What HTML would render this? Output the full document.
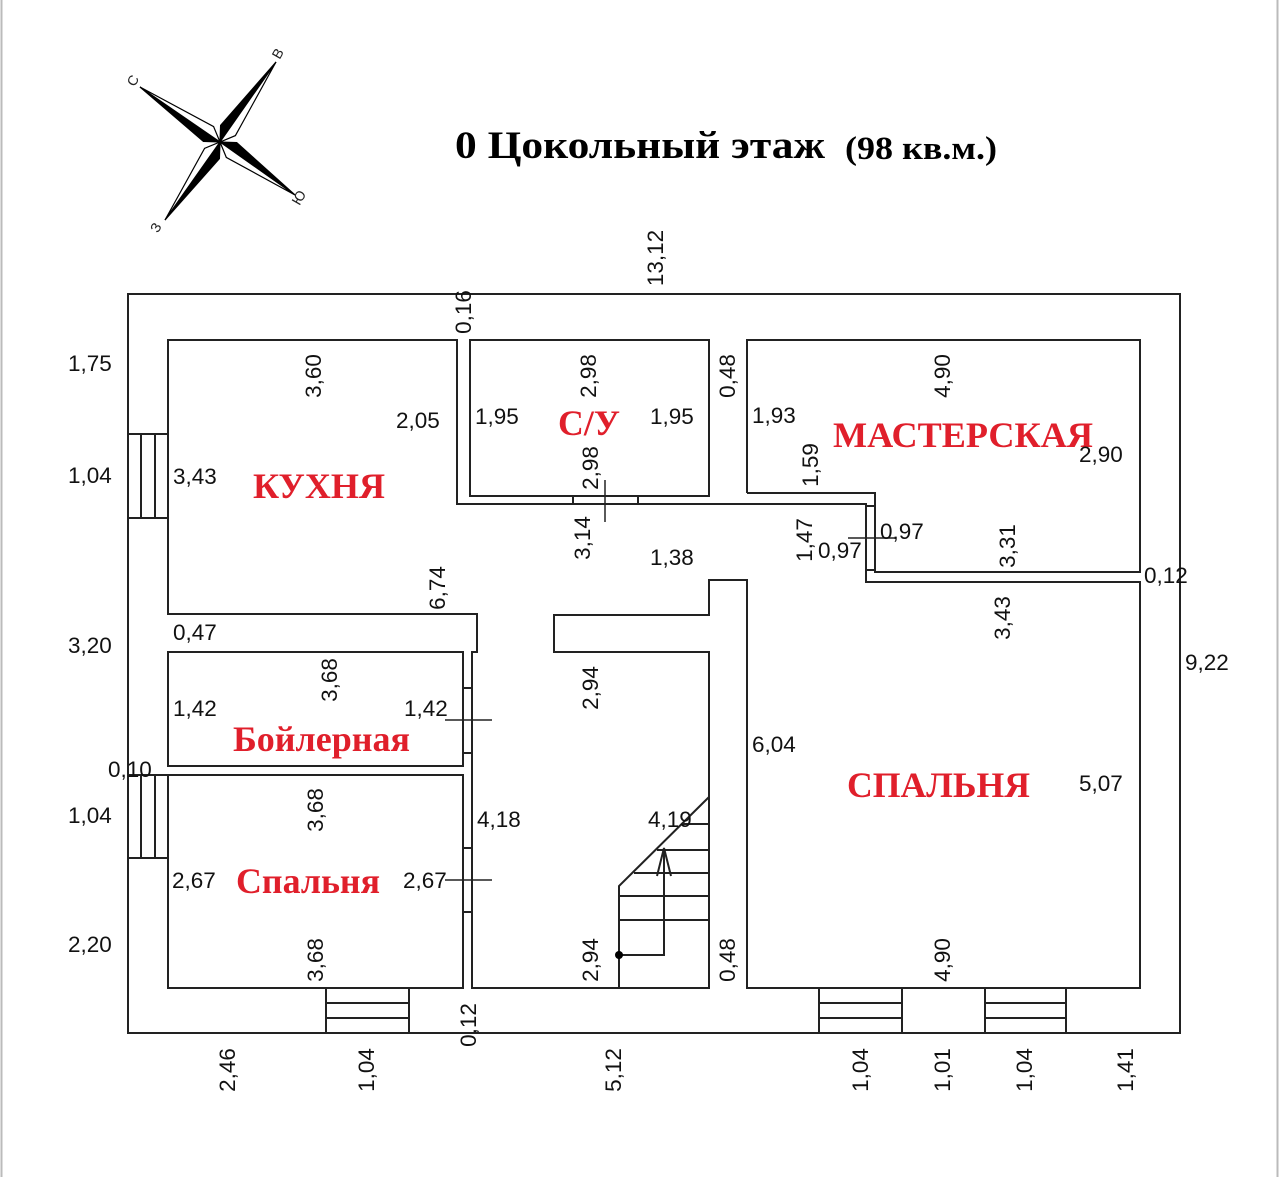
<!DOCTYPE html>
<html><head><meta charset="utf-8"><style>
html,body{margin:0;padding:0;background:#fff;}
svg{display:block;}
.n{font-family:"Liberation Sans",Arial,sans-serif;font-size:22.5px;fill:#111;}
.r{font-family:"Liberation Serif","Noto Serif CJK SC",serif;font-weight:bold;font-size:36px;fill:#e01f2b;}
.t{font-family:"Liberation Serif","Noto Serif CJK SC",serif;font-weight:bold;fill:#000;}
</style></head><body>
<svg width="1280" height="1177" viewBox="0 0 1280 1177" xmlns="http://www.w3.org/2000/svg">
<rect x="0" y="0" width="1280" height="1177" fill="#fff"/>
<line x1="1.5" y1="0" x2="1.5" y2="1177" stroke="#bbb" stroke-width="2"/>
<line x1="1277.5" y1="0" x2="1277.5" y2="1177" stroke="#bbb" stroke-width="2"/>

<!-- compass -->
<g stroke="#000" stroke-width="1.2" stroke-linejoin="miter">
<polygon points="220,142 140,87 203.4,141.4" fill="#000"/>
<polygon points="220,142 140,87 213.6,126.6" fill="#fff"/>
<polygon points="220,142 276,62 220.6,125.4" fill="#000"/>
<polygon points="220,142 276,62 235.4,135.6" fill="#fff"/>
<polygon points="220,142 295,195 236.7,142.6" fill="#000"/>
<polygon points="220,142 295,195 226.3,157.4" fill="#fff"/>
<polygon points="220,142 165,220 219.4,158.7" fill="#000"/>
<polygon points="220,142 165,220 204.6,148.3" fill="#fff"/>
</g>
<g font-family="Liberation Sans,sans-serif" font-size="14" fill="#222">
<text x="137" y="83" transform="rotate(-60 137 83)" text-anchor="middle">С</text>
<text x="282" y="56" transform="rotate(-60 282 56)" text-anchor="middle">В</text>
<text x="303" y="200" transform="rotate(-60 303 200)" text-anchor="middle">Ю</text>
<text x="160" y="230" transform="rotate(-60 160 230)" text-anchor="middle">З</text>
</g>

<text class="t" x="455" y="158" font-size="39" textLength="370" lengthAdjust="spacingAndGlyphs">0 Цокольный этаж</text>
<text class="t" x="845" y="159" font-size="33" textLength="152" lengthAdjust="spacingAndGlyphs">(98 кв.м.)</text>

<g fill="none" stroke="#222" stroke-width="2">
<rect x="128" y="294" width="1052" height="739"/>
<polyline points="168,434 168,340 457,340 457,504 866,504 866,582 1140,582 1140,988 747,988 747,580 709,580 709,615 554,615 554,652 709,652 709,988 472,988 472,652 477,652 477,614 168,614 168,518"/>
<rect x="470" y="340" width="239" height="156"/>
<line x1="573" y1="496" x2="573" y2="504"/><line x1="638" y1="496" x2="638" y2="504"/>
<line x1="605" y1="480" x2="605" y2="522" stroke-width="1.5"/>
<polyline points="747,493 747,340 1140,340 1140,572 875,572 875,493 747,493"/>
<line x1="866" y1="506" x2="875" y2="506"/><line x1="866" y1="570" x2="875" y2="570"/>
<line x1="848" y1="538" x2="895" y2="538" stroke-width="1.5"/>
<rect x="168" y="652" width="295" height="114"/>
<rect x="168" y="775" width="295" height="213"/>
<line x1="463" y1="688" x2="472" y2="688"/><line x1="463" y1="753" x2="472" y2="753"/>
<line x1="463" y1="848" x2="472" y2="848"/><line x1="463" y1="912" x2="472" y2="912"/>
<line x1="445" y1="720" x2="492" y2="720" stroke-width="1.5"/>
<line x1="445" y1="880" x2="492" y2="880" stroke-width="1.5"/>
<rect x="128" y="434" width="40" height="84"/>
<line x1="141" y1="434" x2="141" y2="518"/><line x1="155" y1="434" x2="155" y2="518"/>
<rect x="128" y="775" width="40" height="83"/>
<line x1="141" y1="775" x2="141" y2="858"/><line x1="155" y1="775" x2="155" y2="858"/>
<rect x="326" y="988" width="83" height="45"/>
<line x1="326" y1="1003" x2="409" y2="1003"/><line x1="326" y1="1018" x2="409" y2="1018"/>
<rect x="819" y="988" width="83" height="45"/>
<line x1="819" y1="1003" x2="902" y2="1003"/><line x1="819" y1="1018" x2="902" y2="1018"/>
<rect x="985" y="988" width="81" height="45"/>
<line x1="985" y1="1003" x2="1066" y2="1003"/><line x1="985" y1="1018" x2="1066" y2="1018"/>
<polyline points="619,988 619,886 709,797"/>
<line x1="683" y1="824" x2="709" y2="824"/>
<line x1="657" y1="850" x2="709" y2="850"/>
<line x1="634" y1="873" x2="709" y2="873"/>
<line x1="619" y1="896" x2="709" y2="896"/>
<line x1="619" y1="920" x2="709" y2="920"/>
<polyline points="619,955 664,955 664,848"/>
<polyline points="657,876 664,848 671,876"/>
</g>
<circle cx="619" cy="955" r="4" fill="#000"/>

<text class="r" x="253" y="498" textLength="132" lengthAdjust="spacingAndGlyphs">КУХНЯ</text>
<text class="r" x="558" y="435" textLength="62" lengthAdjust="spacingAndGlyphs">С/У</text>
<text class="r" x="833" y="447" textLength="260" lengthAdjust="spacingAndGlyphs">МАСТЕРСКАЯ</text>
<text class="r" x="233" y="751" textLength="177" lengthAdjust="spacingAndGlyphs">Бойлерная</text>
<text class="r" x="236" y="893" textLength="144" lengthAdjust="spacingAndGlyphs">Спальня</text>
<text class="r" x="847" y="797" textLength="183" lengthAdjust="spacingAndGlyphs">СПАЛЬНЯ</text>

<g class="n">
<text x="68" y="371">1,75</text><text x="68" y="483">1,04</text><text x="68" y="653">3,20</text>
<text x="108" y="777">0,10</text><text x="68" y="823">1,04</text><text x="68" y="952">2,20</text>
<text x="173" y="484">3,43</text><text x="396" y="428">2,05</text><text x="475" y="424">1,95</text>
<text x="650" y="424">1,95</text><text x="752" y="423">1,93</text><text x="1079" y="462">2,90</text>
<text x="880" y="539">0,97</text><text x="818" y="558">0,97</text><text x="650" y="565">1,38</text>
<text x="1144" y="583">0,12</text><text x="1185" y="670">9,22</text><text x="173" y="640">0,47</text>
<text x="173" y="716">1,42</text><text x="404" y="716">1,42</text><text x="752" y="752">6,04</text>
<text x="1079" y="791">5,07</text><text x="477" y="827">4,18</text><text x="648" y="827">4,19</text>
<text x="172" y="888">2,67</text><text x="403" y="888">2,67</text>
</g>
<g class="n" text-anchor="middle">
<text x="655" y="266" transform="rotate(-90 655 258)">13,12</text>
<text x="463" y="320" transform="rotate(-90 463 312)">0,16</text>
<text x="313" y="384" transform="rotate(-90 313 376)">3,60</text>
<text x="588" y="384" transform="rotate(-90 588 376)">2,98</text>
<text x="727" y="384" transform="rotate(-90 727 376)">0,48</text>
<text x="942" y="384" transform="rotate(-90 942 376)">4,90</text>
<text x="590" y="476" transform="rotate(-90 590 468)">2,98</text>
<text x="810" y="473" transform="rotate(-90 810 465)">1,59</text>
<text x="582" y="546" transform="rotate(-90 582 538)">3,14</text>
<text x="804" y="548" transform="rotate(-90 804 540)">1,47</text>
<text x="1007" y="554" transform="rotate(-90 1007 546)">3,31</text>
<text x="437" y="596" transform="rotate(-90 437 588)">6,74</text>
<text x="1002" y="626" transform="rotate(-90 1002 618)">3,43</text>
<text x="329" y="688" transform="rotate(-90 329 680)">3,68</text>
<text x="590" y="696" transform="rotate(-90 590 688)">2,94</text>
<text x="315" y="818" transform="rotate(-90 315 810)">3,68</text>
<text x="315" y="968" transform="rotate(-90 315 960)">3,68</text>
<text x="590" y="968" transform="rotate(-90 590 960)">2,94</text>
<text x="727" y="968" transform="rotate(-90 727 960)">0,48</text>
<text x="942" y="968" transform="rotate(-90 942 960)">4,90</text>
<text x="468" y="1033" transform="rotate(-90 468 1025)">0,12</text>
<text x="227" y="1078" transform="rotate(-90 227 1070)">2,46</text>
<text x="366" y="1078" transform="rotate(-90 366 1070)">1,04</text>
<text x="613" y="1078" transform="rotate(-90 613 1070)">5,12</text>
<text x="860" y="1078" transform="rotate(-90 860 1070)">1,04</text>
<text x="942" y="1078" transform="rotate(-90 942 1070)">1,01</text>
<text x="1024" y="1078" transform="rotate(-90 1024 1070)">1,04</text>
<text x="1125" y="1078" transform="rotate(-90 1125 1070)">1,41</text>
</g>
</svg>
</body></html>
